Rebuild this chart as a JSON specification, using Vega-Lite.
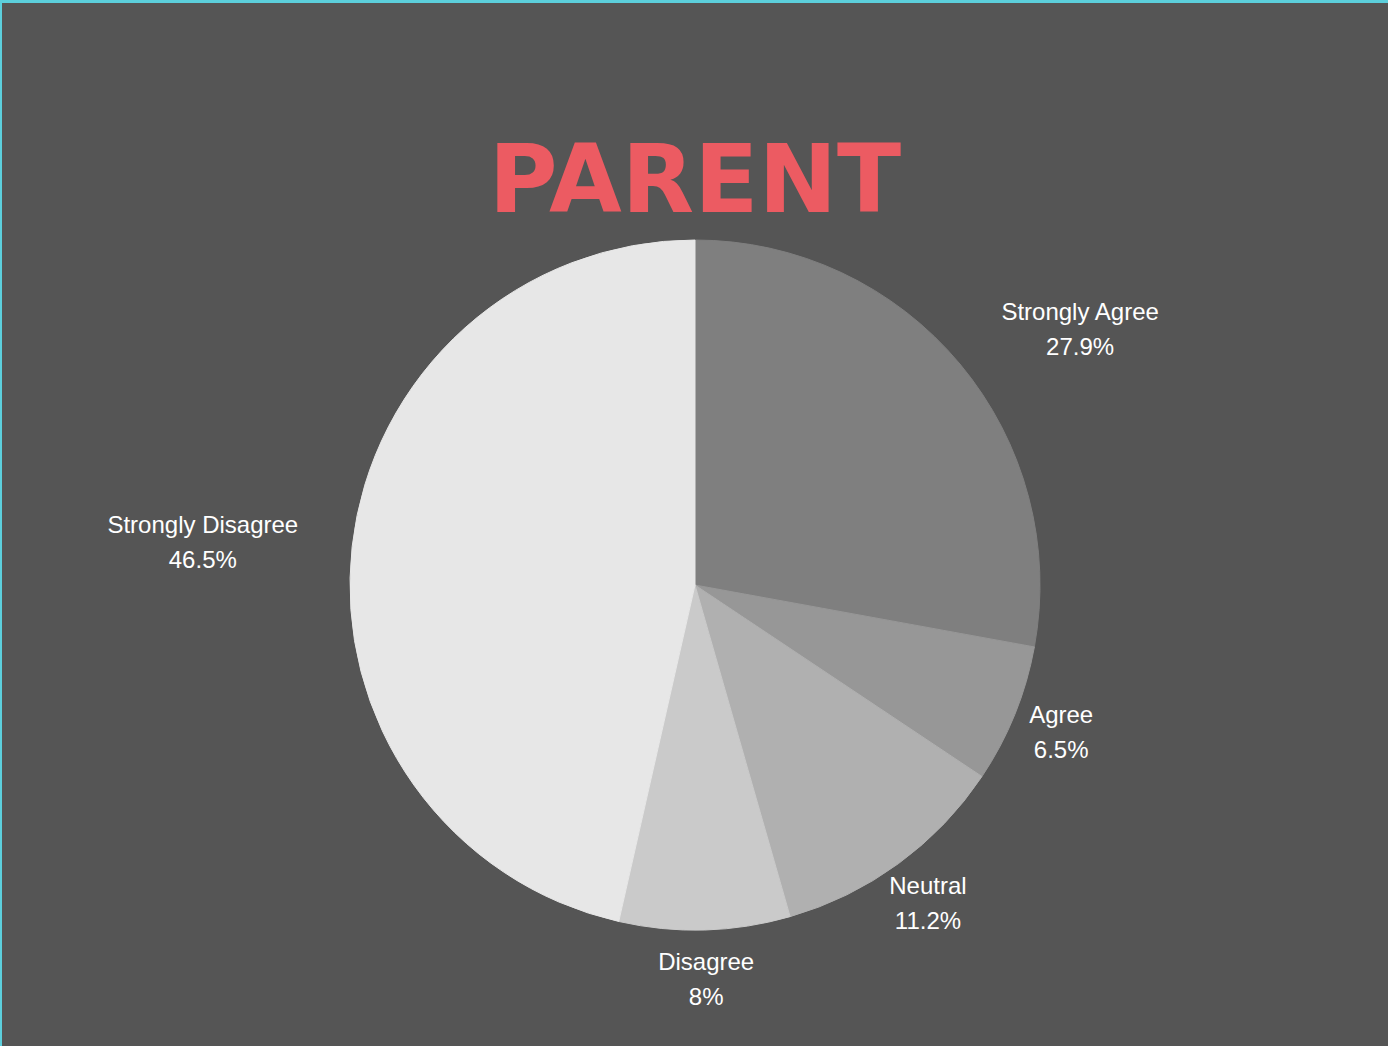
{
  "$schema": "https://vega.github.io/schema/vega-lite/v6.json",
  "width": 1386,
  "height": 1164,
  "autosize": {"type": "none"},
  "padding": {"left": 2, "top": 3, "right": 0, "bottom": 0},
  "background": "#5ccfdc",
  "view": {"fill": "#555555", "stroke": null},
  "title": {
    "text": "PARENT",
    "font": "DejaVu Sans",
    "fontSize": 94,
    "fontWeight": "bold",
    "color": "#ec5b62",
    "anchor": "middle",
    "baseline": "alphabetic",
    "offset": -303
  },
  "data": {
    "values": [
      {"answer": "Strongly Agree", "pct": 27.9, "rank": 1},
      {"answer": "Agree", "pct": 6.5, "rank": 2},
      {"answer": "Neutral", "pct": 11.2, "rank": 3},
      {"answer": "Disagree", "pct": 8, "rank": 4},
      {"answer": "Strongly Disagree", "pct": 46.5, "rank": 5}
    ]
  },
  "transform": [
    {"stack": "pct", "groupby": [], "sort": [{"field": "rank", "order": "ascending"}], "as": ["t0", "t1"]},
    {"calculate": "(datum.t0 + datum.t1) / 2", "as": "tmid"},
    {"calculate": "datum.answer + '\\n' + datum.pct + '%'", "as": "label"}
  ],
  "layer": [
    {
      "mark": {"type": "arc", "outerRadius": 345, "strokeWidth": 1},
      "encoding": {
        "theta": {"field": "t0", "type": "quantitative", "scale": {"domain": [0, 100.1]}},
        "theta2": {"field": "t1"},
        "color": {
          "field": "answer",
          "type": "nominal",
          "scale": {
            "domain": ["Strongly Agree", "Agree", "Neutral", "Disagree", "Strongly Disagree"],
            "range": ["#7f7f7f", "#979797", "#b0b0b0", "#cacaca", "#e7e7e7"]
          },
          "legend": null
        },
        "stroke": {
          "field": "answer",
          "type": "nominal",
          "scale": {
            "domain": ["Strongly Agree", "Agree", "Neutral", "Disagree", "Strongly Disagree"],
            "range": ["#7f7f7f", "#979797", "#b0b0b0", "#cacaca", "#e7e7e7"]
          },
          "legend": null
        }
      }
    },
    {
      "transform": [{"filter": "datum.rank >= 2 && datum.rank <= 4"}],
      "mark": {"type": "text", "radius": 395, "dy": -17, "font": "Liberation Sans", "fontSize": 24, "color": "#ffffff", "lineBreak": "\n", "lineHeight": 35, "align": "center", "baseline": "middle"},
      "encoding": {
        "theta": {"field": "tmid", "type": "quantitative", "scale": {"domain": [0, 100.1]}},
        "text": {"field": "label"}
      }
    },
    {
      "transform": [{"filter": "datum.rank == 1"}],
      "mark": {"type": "text", "radius": 462, "thetaOffset": 0.11, "dy": -17, "font": "Liberation Sans", "fontSize": 24, "color": "#ffffff", "lineBreak": "\n", "lineHeight": 35, "align": "center", "baseline": "middle"},
      "encoding": {
        "theta": {"field": "tmid", "type": "quantitative", "scale": {"domain": [0, 100.1]}},
        "text": {"field": "label"}
      }
    },
    {
      "transform": [{"filter": "datum.rank == 5"}],
      "mark": {"type": "text", "radius": 494, "thetaOffset": -0.026, "dy": -17, "font": "Liberation Sans", "fontSize": 24, "color": "#ffffff", "lineBreak": "\n", "lineHeight": 35, "align": "center", "baseline": "middle"},
      "encoding": {
        "theta": {"field": "tmid", "type": "quantitative", "scale": {"domain": [0, 100.1]}},
        "text": {"field": "label"}
      }
    }
  ]
}
